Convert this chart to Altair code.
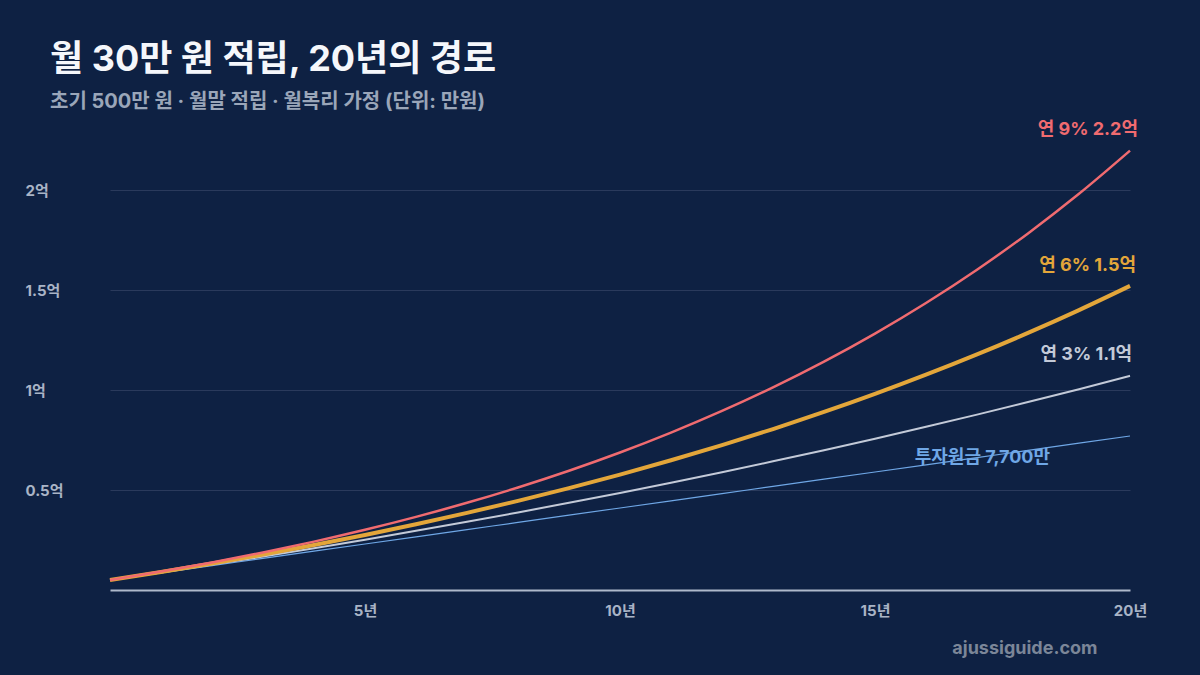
import altair as alt
import pandas as pd

# ---- data (만원) ----
years = list(range(21))
rate9 = [500, 920, 1377, 1876, 2419, 3011, 3657, 4361, 5128, 5964, 6875,
         7869, 8951, 10132, 11418, 12821, 14349, 16015, 17831, 19810, 21968]
rate6 = [500, 900, 1323, 1773, 2249, 2754, 3288, 3856, 4457, 5094, 5769,
         6485, 7244, 8048, 8901, 9806, 10764, 11779, 12856, 13997, 15207]
rate3 = [500, 880, 1271, 1674, 2089, 2517, 2957, 3411, 3878, 4359, 4855,
         5366, 5892, 6433, 6991, 7566, 8158, 8768, 9396, 10042, 10708]
principal = [500, 860, 1220, 1580, 1940, 2300, 2660, 3020, 3380, 3740, 4100,
             4460, 4820, 5180, 5540, 5900, 6260, 6620, 6980, 7340, 7700]

series_names = ["principal", "r3", "r6", "r9"]
label_texts = ["투자원금 7,700만", "연 3% 1.1억", "연 6% 1.5억", "연 9% 2.2억"]
x_ticks = [5, 10, 15, 20]
y_ticks = [5000, 10000, 15000, 20000]

BG = "#0e2143"
FONT = "Inter, Noto Sans CJK KR, sans-serif"

colors = {"principal": "#6fa7e6", "r3": "#c3cad8", "r6": "#e3a63a", "r9": "#f06b70"}
widths = {"principal": 1.2, "r3": 2, "r6": 4, "r9": 2.5}
label_offsets = {"principal": (-80, 22), "r3": (2, -21), "r6": (6, -20), "r9": (8, -21)}

values = {"principal": principal, "r3": rate3, "r6": rate6, "r9": rate9}

x_scale = alt.Scale(domain=[0, 20], nice=False)
y_scale = alt.Scale(domain=[0, 22500], nice=False)

x_axis = alt.Axis(
    values=x_ticks, labelExpr="datum.value + '년'", grid=False, ticks=False, tickSize=0,
    domain=True, domainColor="#aeb9cb", domainWidth=2,
    labelColor="#a9b4c6", labelFont=FONT, labelFontSize=15, labelFontWeight="bold",
    labelPadding=13, labelFlush=False,
    title="ajussiguide.com", titleColor="#7b8698", titleFont=FONT, titleFontSize=18,
    titleFontWeight="bold", titleAnchor="end", titleAlign="right", titleBaseline="middle",
    titleX=987, titleY=58,
)
y_axis = alt.Axis(
    values=y_ticks, labelExpr="(datum.value/10000) + '억'", grid=True,
    gridColor="#2a3a5c", gridWidth=1, ticks=False, tickSize=0, domain=False,
    labelAlign="left", labelBaseline="middle", labelPadding=85,
    labelColor="#a9b4c6", labelFont=FONT, labelFontSize=15, labelFontWeight="bold",
    title=None,
)

layers = []
for i, s in enumerate(series_names):
    df = pd.DataFrame({"year": years, "value": values[s]})
    layers.append(
        alt.Chart(df).mark_line(color=colors[s], strokeWidth=widths[s], interpolate="monotone")
        .encode(
            x=alt.X("year:Q", scale=x_scale, axis=x_axis),
            y=alt.Y("value:Q", scale=y_scale, axis=y_axis),
        )
    )

for s, txt in zip(series_names, label_texts):
    ldf = pd.DataFrame({"year": [years[-1]], "value": [values[s][-1]], "label": [txt]})
    dx, dy = label_offsets[s]
    layers.append(
        alt.Chart(ldf).mark_text(
            align="right", baseline="middle", dx=dx, dy=dy, color=colors[s],
            font=FONT, fontSize=18, fontWeight="bold"
        ).encode(
            x=alt.X("year:Q", scale=x_scale, axis=x_axis),
            y=alt.Y("value:Q", scale=y_scale, axis=y_axis),
            text="label:N",
        )
    )

chart = alt.layer(*layers).properties(
    width=1020, height=450,
    background=BG,
    padding={"left": 110, "top": 140, "right": 70, "bottom": 85},
    autosize=alt.AutoSizeParams(type="none"),
    title=alt.TitleParams(
        text="월 30만 원 적립, 20년의 경로",
        subtitle="초기 500만 원 · 월말 적립 · 월복리 가정 (단위: 만원)",
        anchor="start", frame="group", dx=-60, offset=8,
        font=FONT, fontSize=36, fontWeight="bold", color="#f5f7fb",
        subtitleFont=FONT, subtitleFontSize=20, subtitleFontWeight="bold",
        subtitleColor="#9aa6b9", subtitlePadding=13,
    ),
).configure_view(stroke=None)

chart.save("out.html", embed_options={"renderer": "svg", "actions": False})
